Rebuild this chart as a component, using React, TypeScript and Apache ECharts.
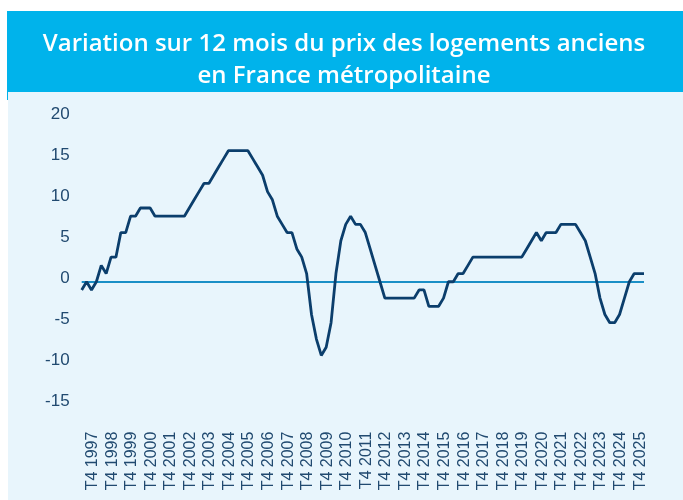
import { useEffect, useRef } from "react";
import * as echarts from "echarts";

const TITLE_LINES = ["Variation sur 12 mois du prix des logements anciens", "en France métropolitaine"];

// First quarter of the series: T2 1997
const START_YEAR = 1997;
const START_QUARTER = 2;

// Year-on-year change (%), one value per quarter
const values = [
  -1, 0, -1, 0, 2, 1, 3, 3, 6, 6,
  8, 8, 9, 9, 9, 8, 8, 8, 8, 8,
  8, 8, 9, 10, 11, 12, 12, 13, 14, 15,
  16, 16, 16, 16, 16, 15, 14, 13, 11, 10,
  8, 7, 6, 6, 4, 3, 1, -4, -7, -9,
  -8, -5, 1, 5, 7, 8, 7, 7, 6, 4,
  2, 0, -2, -2, -2, -2, -2, -2, -2, -1,
  -1, -3, -3, -3, -2, 0, 0, 1, 1, 2,
  3, 3, 3, 3, 3, 3, 3, 3, 3, 3,
  3, 4, 5, 6, 5, 6, 6, 6, 7, 7,
  7, 7, 6, 5, 3, 1, -2, -4, -5, -5,
  -4, -2, 0, 1, 1, 1,
];

const Y_MIN = -15;
const Y_MAX = 20;
const Y_STEP = 5;

const categories: string[] = values.map((_, i) => {
  const q0 = START_QUARTER - 1 + i;
  const year = START_YEAR + Math.floor(q0 / 4);
  const q = (q0 % 4) + 1;
  return `T${q} ${year}`;
});

export default function App() {
  const ref = useRef<HTMLDivElement>(null);

  useEffect(() => {
    if (!ref.current) return;
    const chart = echarts.init(ref.current, undefined, { renderer: "svg" });
    const labelColor = "#214a70";
    const titleFont = "600 24px 'Open Sans', 'Noto Sans', sans-serif";
    chart.setOption({
      animation: false,
      graphic: [
        {
          type: "rect",
          z: 0,
          shape: { x: 8, y: 92, width: 675, height: 408 },
          style: { fill: "#e8f5fc" },
        },
        {
          type: "rect",
          z: 0,
          shape: { x: 7, y: 11, width: 676, height: 81 },
          style: { fill: "#00b3eb" },
        },
        {
          type: "rect",
          z: 0,
          shape: { x: 7, y: 92, width: 1, height: 8 },
          style: { fill: "#00b3eb" },
        },
        {
          type: "text",
          z: 5,
          x: 344,
          y: 41,
          style: {
            text: TITLE_LINES[0],
            fill: "#ffffff",
            font: titleFont,
            textAlign: "center",
            textVerticalAlign: "middle",
          },
        },
        {
          type: "text",
          z: 5,
          x: 344,
          y: 73,
          style: {
            text: TITLE_LINES[1],
            fill: "#ffffff",
            font: titleFont,
            textAlign: "center",
            textVerticalAlign: "middle",
          },
        },
      ],
      grid: {
        left: 81.7,
        right: 39,
        top: 117.9,
        bottom: 95.4,
        containLabel: false,
      },
      xAxis: {
        type: "category",
        data: categories,
        boundaryGap: false,
        axisLine: { show: false },
        axisTick: { show: false },
        splitLine: { show: false },
        axisLabel: {
          rotate: 90,
          interval: (index: number) => index % 4 === 2,
          margin: 27,
          fontSize: 16,
          fontFamily: "'Liberation Sans', Arial, sans-serif",
          color: labelColor,
        },
      },
      yAxis: {
        type: "value",
        min: Y_MIN,
        max: Y_MAX,
        interval: Y_STEP,
        axisLine: { show: false },
        axisTick: { show: false },
        splitLine: { show: false },
        axisLabel: {
          margin: 12,
          fontSize: 17,
          fontFamily: "'Liberation Sans', Arial, sans-serif",
          color: labelColor,
          verticalAlign: "bottom",
          lineHeight: 9,
        },
      },
      series: [
        {
          type: "line",
          data: values,
          symbol: "none",
          z: 3,
          lineStyle: { color: "#0b3e6c", width: 2.8 },
          markLine: {
            silent: true,
            symbol: "none",
            z: 2,
            label: { show: false },
            lineStyle: { color: "#1a8fc6", width: 2, type: "solid" },
            data: [{ yAxis: 0 }],
          },
        },
      ],
    });
    return () => chart.dispose();
  }, []);

  return (
    <div
      ref={ref}
      style={{ position: "fixed", left: 0, top: 0, width: 683, height: 500 }}
    />
  );
}
